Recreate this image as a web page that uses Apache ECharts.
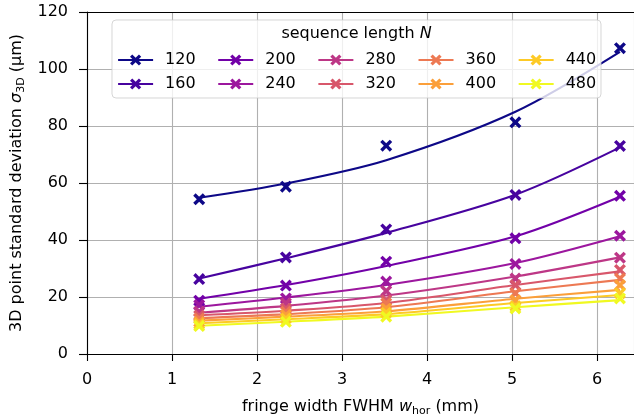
<!DOCTYPE html>
<html>
<head>
<meta charset="utf-8">
<script src="https://cdn.jsdelivr.net/npm/echarts@6/dist/echarts.min.js"></script>
<style>
html,body{margin:0;padding:0;background:#fff;}
#c{width:634px;height:418px;}
</style>
</head>
<body>
<div id="c"></div>
<script>
// ---- data ----
var legendRow1 = ['120','200','280','360','440'];
var legendRow2 = ['160','240','320','400','480'];
var xValues = [1.32, 2.34, 3.52, 5.04, 6.27];
var xTicks = [0, 1, 2, 3, 4, 5, 6];
var yTicks = [0, 20, 40, 60, 80, 100, 120];
var order = ['120','160','200','240','280','320','360','400','440','480'];
var colors = ['#0d0887','#47039f','#7201a8','#9c179e','#bd3786','#d8576b','#ed7953','#fb9f3a','#fdca26','#f0f921'];

var measured120 = [54.3, 58.7, 73.1, 81.3, 107.3];
var measured160 = [26.3, 33.9, 43.7, 55.8, 73.0];
var measured200 = [18.7, 24.0, 32.4, 40.6, 55.5];
var measured240 = [17.2, 19.5, 25.4, 31.6, 41.5];
var measured280 = [14.9, 17.8, 22.1, 26.5, 33.8];
var measured320 = [13.5, 16.0, 18.9, 24.2, 29.5];
var measured360 = [12.5, 14.9, 17.8, 21.3, 26.5];
var measured400 = [11.3, 13.7, 16.0, 18.9, 24.2];
var measured440 = [10.5, 12.5, 14.5, 16.8, 21.3];
var measured480 = [9.8, 11.3, 13.1, 16.0, 19.5];

var fit120 = [54.8, 59.8, 68.0, 85.0, 106.0];
var fit160 = [26.5, 33.6, 42.5, 55.9, 72.5];
var fit200 = [19.4, 24.2, 30.9, 41.3, 55.2];
var fit240 = [16.6, 19.8, 24.2, 31.9, 41.3];
var fit280 = [14.5, 16.9, 20.5, 27.2, 33.9];
var fit320 = [13.6, 15.2, 17.9, 24.2, 29.0];
var fit360 = [12.6, 14.0, 16.4, 22.0, 26.0];
var fit400 = [11.7, 13.1, 15.0, 19.4, 22.5];
var fit440 = [10.8, 12.2, 14.0, 17.9, 20.7];
var fit480 = [9.9, 11.3, 13.1, 16.4, 18.9];

var measured = {'120':measured120,'160':measured160,'200':measured200,'240':measured240,'280':measured280,
                '320':measured320,'360':measured360,'400':measured400,'440':measured440,'480':measured480};
var fits = {'120':fit120,'160':fit160,'200':fit200,'240':fit240,'280':fit280,
            '320':fit320,'360':fit360,'400':fit400,'440':fit440,'480':fit480};

var XPATH = 'path://M0,2L2,0L5,3L8,0L10,2L7,5L10,8L8,10L5,7L2,10L0,8L3,5Z';
var FONT = 'DejaVu Sans';

function pairs(xs, ys){ return xs.map(function(x,i){ return [x, ys[i]]; }); }

var series = [];
order.forEach(function(n, i){
  series.push({
    name: n, type: 'line', data: pairs(xValues, fits[n]),
    smooth: 0.3, showSymbol: false, symbol: XPATH,
    itemStyle: {color: colors[i]},
    lineStyle: {color: colors[i], width: 2.1},
    silent: true, animation: false, z: 2
  });
  series.push({
    name: n + ' pts', type: 'scatter', data: pairs(xValues, measured[n]),
    symbol: XPATH, symbolSize: 12,
    itemStyle: {color: colors[i], opacity: 1},
    silent: true, animation: false, z: 2
  });
});

var legendCommon = {
  orient: 'horizontal', left: 117, itemWidth: 35, itemHeight: 14, itemGap: 21.5,
  padding: 0, selectedMode: false,
  lineStyle: {width: 2.2},
  textStyle: {fontFamily: FONT, fontSize: 16, color: '#000', padding: [0,0,0,7]}
};

var chart = echarts.init(document.getElementById('c'), null, {renderer: 'canvas'});
chart.setOption({
  animation: false,
  backgroundColor: '#fff',
  textStyle: {fontFamily: FONT},
  grid: {left: 87, right: 0, top: 12, bottom: 64, containLabel: false, outerBoundsMode: 'none'},
  title: {
    text: '{a|sequence length }{b|N}',
    left: 356.5, textAlign: 'center', top: 26, padding: 0,
    textStyle: {fontWeight: 'normal', rich: {
      a: {fontFamily: FONT, fontSize: 16, color: '#000', fontWeight: 'normal'},
      b: {fontFamily: FONT, fontSize: 16, color: '#000', fontStyle: 'italic', fontWeight: 'normal'}
    }}
  },
  legend: [
    Object.assign({top: 52, data: legendRow1}, legendCommon),
    Object.assign({top: 76, data: legendRow2}, legendCommon)
  ],
  graphic: {
    z: 3,
    elements: [{
      type: 'rect', z: 3, silent: true,
      shape: {x: 112, y: 20, width: 489, height: 78, r: 4},
      style: {fill: 'rgba(255,255,255,0.8)', stroke: 'rgba(204,204,204,0.8)', lineWidth: 1}
    }]
  },
  xAxis: [{
    type: 'value', min: xTicks[0], max: 6.435, interval: 1,
    axisLine: {show: true, onZero: false, lineStyle: {color: '#000', width: 1.1}},
    axisTick: {show: true, length: 7, lineStyle: {color: '#000', width: 1.1}},
    axisLabel: {color: '#000', fontFamily: FONT, fontSize: 16, margin: 18, showMaxLabel: false,
      formatter: function(v){ return xTicks.indexOf(v) >= 0 ? String(v) : ''; }},
    splitLine: {show: true, lineStyle: {color: '#b0b0b0', width: 1.1}},
    name: '{n|fringe width FWHM }{i|w}{s|hor}{n| (mm)}',
    nameLocation: 'middle', nameGap: 43,
    nameTextStyle: {rich: {
      n: {fontFamily: FONT, fontSize: 16, color: '#000'},
      i: {fontFamily: FONT, fontSize: 16, color: '#000', fontStyle: 'italic'},
      s: {fontFamily: FONT, fontSize: 11, color: '#000', padding: [9,0,0,0]}
    }}
  }, {
    type: 'value', position: 'top', min: xTicks[0], max: 6.435,
    axisLine: {show: true, onZero: false, lineStyle: {color: '#000', width: 1.1}},
    axisTick: {show: false}, axisLabel: {show: false}, splitLine: {show: false}
  }],
  yAxis: {
    type: 'value', min: yTicks[0], max: yTicks[yTicks.length-1], interval: 20,
    axisLine: {show: true, onZero: false, lineStyle: {color: '#000', width: 1.1}},
    axisTick: {show: true, length: 8, lineStyle: {color: '#000', width: 1.1}},
    axisLabel: {color: '#000', fontFamily: FONT, fontSize: 16, margin: 19},
    splitLine: {show: true, lineStyle: {color: '#b0b0b0', width: 1.1}},
    name: '{n|3D point standard deviation }{i|σ}{s|3D}{n| (µm)}',
    nameLocation: 'middle', nameGap: 60,
    nameTextStyle: {rich: {
      n: {fontFamily: FONT, fontSize: 16, color: '#000'},
      i: {fontFamily: FONT, fontSize: 16, color: '#000', fontStyle: 'italic'},
      s: {fontFamily: FONT, fontSize: 11, color: '#000', padding: [9,0,0,0]}
    }}
  },
  series: series
});
</script>
</body>
</html>
